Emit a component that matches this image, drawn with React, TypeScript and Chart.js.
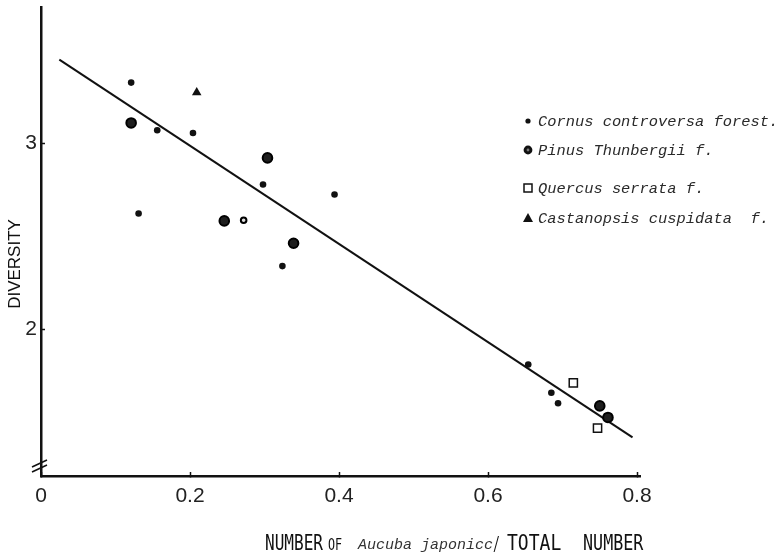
import React, { useEffect, useRef } from 'react';
import { Chart, registerables } from 'chart.js';

Chart.register(...registerables);

// ---- data ----
const cornusX = [0.121, 0.156, 0.204, 0.298, 0.394, 0.131, 0.324, 0.654, 0.685, 0.694];
const cornusY = [3.326, 3.07, 3.055, 2.778, 2.724, 2.622, 2.339, 1.81, 1.658, 1.601];

const pinusX = [0.121, 0.304, 0.246, 0.339, 0.75, 0.761];
const pinusY = [3.109, 2.921, 2.582, 2.462, 1.587, 1.525];

const pinusSmallX = [0.272];
const pinusSmallY = [2.586];

const quercusX = [0.7145, 0.747];
const quercusY = [1.711, 1.468];

const castanopsisX = [0.209];
const castanopsisY = [3.273];

const regressionX = [0.0246, 0.794];
const regressionY = [3.45, 1.418];

const xTickValues = [0, 0.2, 0.4, 0.6, 0.8];
const yTickValues = [2, 3];
const xMin = 0;
const xMax = 0.804;
const yMin = 1.21;
const yMax = 3.731;

const seriesLabels = [
  'Cornus controversa forest.',
  'Pinus Thunbergii f.',
  'Quercus serrata f.',
  'Castanopsis cuspidata  f.',
];
const yTitle = 'DIVERSITY';
const xTitleParts = ['NUMBER', 'OF', 'Aucuba japonicc', '/', 'TOTAL', 'NUMBER'];

function pts(xs: number[], ys: number[]) {
  return xs.map((x, i) => ({ x, y: ys[i] }));
}

const INK = '#111';

const decorPlugin = {
  id: 'decor',
  afterDraw(chart: any) {
    const ctx: CanvasRenderingContext2D = chart.ctx;
    const area = chart.chartArea;
    ctx.save();

    // axis break marks
    ctx.strokeStyle = INK;
    ctx.lineWidth = 1.6;
    ctx.beginPath();
    ctx.moveTo(area.left - 9, area.bottom - 9);
    ctx.lineTo(area.left + 6, area.bottom - 16);
    ctx.moveTo(area.left - 9, area.bottom - 4);
    ctx.lineTo(area.left + 6, area.bottom - 11);
    ctx.stroke();

    // legend
    const lx = 528;
    const rows = [121, 150, 188, 218];
    ctx.fillStyle = INK;
    ctx.beginPath();
    ctx.arc(lx, rows[0], 2.6, 0, Math.PI * 2);
    ctx.fill();
    ctx.beginPath();
    ctx.arc(lx, rows[1], 4.4, 0, Math.PI * 2);
    ctx.fill();
    ctx.fillStyle = '#777';
    ctx.beginPath();
    ctx.arc(lx, rows[1], 1.4, 0, Math.PI * 2);
    ctx.fill();
    ctx.strokeStyle = INK;
    ctx.lineWidth = 1.5;
    ctx.strokeRect(lx - 4, rows[2] - 4, 8, 8);
    ctx.fillStyle = INK;
    ctx.beginPath();
    ctx.moveTo(lx, rows[3] - 5);
    ctx.lineTo(lx + 5, rows[3] + 4);
    ctx.lineTo(lx - 5, rows[3] + 4);
    ctx.closePath();
    ctx.fill();

    ctx.fillStyle = '#2a2a2a';
    ctx.font = 'italic 15.4px "Liberation Mono", "DejaVu Sans Mono", monospace';
    ctx.textAlign = 'left';
    ctx.textBaseline = 'alphabetic';
    seriesLabels.forEach((t, i) => {
      ctx.fillText(t, 538, rows[i] + 5);
    });

    // y title
    ctx.save();
    ctx.translate(15, 264);
    ctx.rotate(-Math.PI / 2);
    ctx.fillStyle = INK;
    ctx.font = '17px "Liberation Sans", Arial, sans-serif';
    ctx.textAlign = 'center';
    ctx.textBaseline = 'middle';
    ctx.fillText(yTitle, 0, 0);
    ctx.restore();

    // x title (mixed lettering)
    const base = 550;
    const drawCond = (text: string, x: number, size: number, sx: number) => {
      ctx.save();
      ctx.translate(x, base);
      ctx.scale(sx, 1);
      ctx.font = `${size}px "DejaVu Sans Mono", "Liberation Mono", monospace`;
      ctx.fillStyle = INK;
      ctx.textAlign = 'left';
      ctx.textBaseline = 'alphabetic';
      ctx.fillText(text, 0, 0);
      ctx.restore();
    };
    drawCond(xTitleParts[0], 265, 22, 0.73);
    drawCond(xTitleParts[1], 328, 15, 0.78);
    ctx.save();
    ctx.font = 'italic 15px "Liberation Mono", "DejaVu Sans Mono", monospace';
    ctx.fillStyle = '#333';
    ctx.textAlign = 'left';
    ctx.textBaseline = 'alphabetic';
    ctx.fillText(xTitleParts[2], 358, base - 1);
    ctx.restore();
    drawCond(xTitleParts[3], 493, 19, 0.6);
    drawCond(xTitleParts[4], 507, 22, 0.82);
    drawCond(xTitleParts[5], 583, 22, 0.76);

    ctx.restore();
  },
};

const zeroPad = (s: any) => {
  s.paddingTop = 0;
  s.paddingBottom = 0;
  s.paddingLeft = 0;
  s.paddingRight = 0;
};

export default function App() {
  const canvasRef = useRef<HTMLCanvasElement | null>(null);

  useEffect(() => {
    const canvas = canvasRef.current;
    if (!canvas) return;
    const tickFont = { family: '"Liberation Sans", Arial, sans-serif', size: 21 };
    const chart = new Chart(canvas, {
      type: 'scatter',
      data: {
        datasets: [
          {
            label: 'regression',
            type: 'line',
            data: pts(regressionX, regressionY),
            borderColor: INK,
            borderWidth: 2,
            pointRadius: 0,
            fill: false,
            order: 10,
          } as any,
          {
            label: seriesLabels[0],
            data: pts(cornusX, cornusY),
            pointStyle: 'circle',
            pointRadius: 3.3,
            pointBorderWidth: 0,
            pointBackgroundColor: INK,
            order: 1,
          },
          {
            label: seriesLabels[1],
            data: pts(pinusX, pinusY),
            pointStyle: 'circle',
            pointRadius: 4.8,
            pointBorderWidth: 2,
            pointBorderColor: '#000',
            pointBackgroundColor: '#1e1e1e',
            order: 1,
          },
          {
            label: 'pinus-small',
            data: pts(pinusSmallX, pinusSmallY),
            pointStyle: 'circle',
            pointRadius: 2.8,
            pointBorderWidth: 2,
            pointBorderColor: '#000',
            pointBackgroundColor: '#ddd',
            order: 1,
          },
          {
            label: seriesLabels[2],
            data: pts(quercusX, quercusY),
            pointStyle: 'rect',
            pointRadius: 5.8,
            pointBorderWidth: 1.5,
            pointBorderColor: INK,
            pointBackgroundColor: '#fff',
            order: 1,
          },
          {
            label: seriesLabels[3],
            data: pts(castanopsisX, castanopsisY),
            pointStyle: 'triangle',
            pointRadius: 5.5,
            pointBorderWidth: 0,
            pointBackgroundColor: INK,
            order: 1,
          },
        ],
      },
      options: {
        responsive: false,
        animation: false,
        events: [],
        layout: { padding: { left: 0, top: 7, right: 784 - 640, bottom: 0 } },
        plugins: {
          legend: { display: false },
          tooltip: { enabled: false },
        },
        scales: {
          x: {
            type: 'linear',
            min: xMin,
            max: xMax,
            afterBuildTicks: (s: any) => {
              s.ticks = xTickValues.map((v) => ({ value: v }));
            },
            afterFit: (s: any) => {
              s.height = 554 - 476;
              zeroPad(s);
            },
            border: { display: true, color: INK, width: 2.5 },
            grid: {
              drawOnChartArea: false,
              drawTicks: true,
              tickLength: -4,
              tickColor: INK,
              tickWidth: 1.5,
            },
            ticks: {
              color: '#222',
              font: tickFont,
              padding: 12,
              maxRotation: 0,
              autoSkip: false,
            },
          },
          y: {
            type: 'linear',
            min: yMin,
            max: yMax,
            afterBuildTicks: (s: any) => {
              s.ticks = yTickValues.map((v) => ({ value: v }));
            },
            afterFit: (s: any) => {
              s.width = 41;
              zeroPad(s);
            },
            border: { display: true, color: INK, width: 2.5 },
            grid: {
              drawOnChartArea: false,
              drawTicks: true,
              tickLength: -4,
              tickColor: INK,
              tickWidth: 1.5,
            },
            ticks: {
              color: '#222',
              font: tickFont,
              padding: 8,
              autoSkip: false,
            },
          },
        },
      },
      plugins: [decorPlugin],
    });
    return () => chart.destroy();
  }, []);

  return (
    <div style={{ position: 'fixed', left: 0, top: 0, width: 784, height: 554, background: '#fff' }}>
      <canvas ref={canvasRef} width={784} height={554} />
    </div>
  );
}
